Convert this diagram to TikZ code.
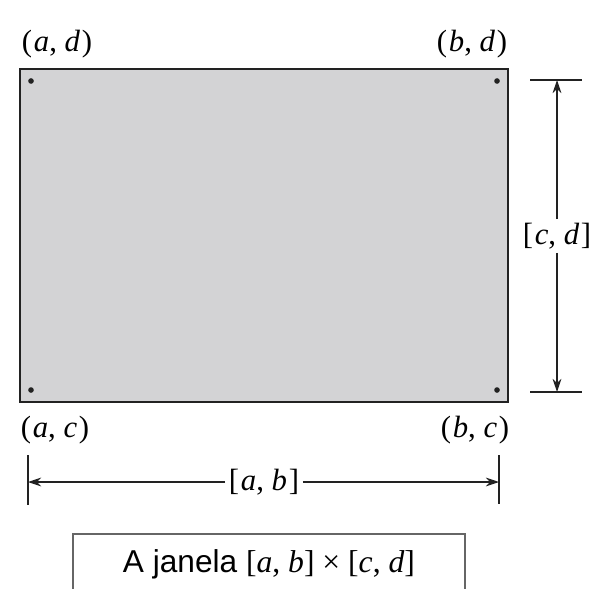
\documentclass[tikz,border=0pt]{standalone}
\usepackage{fontspec}
\setmainfont{Liberation Serif}
\newfontfamily\capfont{Liberation Sans}
\usetikzlibrary{arrows.meta,positioning}
\definecolor{winfill}{HTML}{D3D3D5}
\definecolor{inkdark}{HTML}{222222}
\newcommand{\pt}[2]{(\hspace{1pt}\textit{#1},\ \textit{#2}\hspace{1pt})}
\newcommand{\iv}[2]{{\rmfamily[\hspace{1pt}\textit{#1},\ \textit{#2}\hspace{1pt}]}}

\begin{document}
\begin{tikzpicture}[x=0.02cm,y=-0.02cm,
  cornerlab/.style={font=\fontsize{17.5}{17.5}\selectfont,inner sep=0pt},
  dimlab/.style={font=\fontsize{17.5}{17.5}\selectfont,fill=white,inner sep=2pt},
  dimarrow/.style={-{Stealth[length=7.5pt,width=5pt]},inkdark,line width=0.6pt},
  dimtick/.style={inkdark,line width=0.6pt}]
  \clip (0,0) rectangle (598,588);
  % the window
  \draw[inkdark,line width=1.1pt,fill=winfill] (20,69) rectangle (508,402);
  \foreach \a/\b in {31/81,497/81,31/390,497/390}
    \fill[inkdark] (\a,\b) circle (1.6pt);
  \node[cornerlab] (ad) at (57,44) {\pt{a}{d}};
  \node[cornerlab] (bd) at (472,44) {\pt{b}{d}};
  \node[cornerlab] (ac) at (55,430) {\pt{a}{c}};
  \node[cornerlab] (bc) at (475,430) {\pt{b}{c}};
  % vertical extent [c,d]
  \draw[dimtick] (530,80) -- (582,80);
  \draw[dimtick] (530,392) -- (582,392);
  \coordinate (dtop) at (557,80);
  \coordinate (cbot) at (557,392);
  \node[dimlab] (cd) at (557,236) {\iv{c}{d}};
  \draw[dimarrow] (cd) -- (dtop);
  \draw[dimarrow] (cd) -- (cbot);
  % horizontal extent [a,b]
  \draw[dimtick] (28,455) -- (28,505);
  \draw[dimtick] (499,455) -- (499,504);
  \coordinate (aleft) at (28,482);
  \coordinate (bright) at (499,482);
  \node[dimlab] (ab) at (264,482) {\iv{a}{b}};
  \draw[dimarrow] (ab) -- (aleft);
  \draw[dimarrow] (ab) -- (bright);
  % caption
  \node[draw=gray!80!black,line width=1pt,minimum width=7.84cm,minimum height=1.2cm,
        anchor=north,font=\fontsize{18}{18}\selectfont] (cap) at (269,533)
        {\capfont A janela {\rmfamily[\textit{a}, \textit{b}] × [\textit{c}, \textit{d}]}};
\end{tikzpicture}
\end{document}
